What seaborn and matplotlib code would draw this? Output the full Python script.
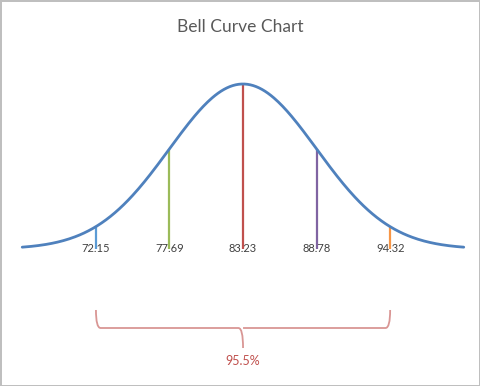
import numpy as np
import pandas as pd
import seaborn as sns
import matplotlib.pyplot as plt
from matplotlib.path import Path
from matplotlib.patches import PathPatch

# values shown on the chart: mean and +/- 1, 2 standard deviations
marks = [72.15, 77.69, 83.23, 88.78, 94.32]
mark_colors = ['#5b9bd5', '#9bbb59', '#c0504d', '#8064a2', '#f79646']
mean = 83.23
sd = 5.545
coverage = '95.5%'

def pdf(v):
    return np.exp(-0.5 * ((v - mean) / sd) ** 2) / (sd * np.sqrt(2 * np.pi))

# bell curve over mean +/- 3 sd
df = pd.DataFrame({'x': np.linspace(mean - 3 * sd, mean + 3 * sd, 301)})
df['pdf'] = pdf(df['x'])

sns.set_style('white')
plt.rcParams['font.family'] = ['Lato', 'DejaVu Sans']

fig = plt.figure(figsize=(4.8, 3.86), dpi=100)
fig.patch.set_edgecolor('#bfbfbf')
fig.patch.set_linewidth(2)
ax = fig.add_axes([0, 0, 1, 1])
ax.set_axis_off()

peak = pdf(mean)
unit = peak / 165.0  # data units per pixel vertically
ax.set_xlim(mean - 18.31, mean + 17.86)
ax.set_ylim(-(386 - 249) * unit, peak + 84 * unit)

for m, c in zip(marks, mark_colors):
    ax.vlines(m, 0, pdf(m), color=c, linewidth=1.6, zorder=2)
sns.lineplot(data=df, x='x', y='pdf', ax=ax, color='#4f81bd', linewidth=2, zorder=3)

for m in marks:
    ax.text(m, 0, '%.2f' % m, ha='center', va='center', fontsize=8, color='#404040', zorder=4)

# brace under the +/- 2 sd span
lo, hi = marks[0], marks[-1]
ytop, ymid, ydip = -61 * unit, -79 * unit, -99 * unit
dx = 0.35
cx = (lo + hi) / 2
verts = [(lo, ytop), (lo, ymid), (lo + dx, ymid), (lo + dx, ymid),
         (cx - dx, ymid), (cx, ymid), (cx, ydip),
         (cx, ymid), (cx + dx, ymid), (cx + dx, ymid),
         (hi - dx, ymid), (hi, ymid), (hi, ytop)]
codes = [Path.MOVETO, Path.CURVE3, Path.CURVE3, Path.LINETO,
         Path.LINETO, Path.CURVE3, Path.CURVE3,
         Path.MOVETO, Path.CURVE3, Path.CURVE3,
         Path.LINETO, Path.CURVE3, Path.CURVE3]
ax.add_patch(PathPatch(Path(verts, codes), fill=False, edgecolor='#d99694', linewidth=1.3))
ax.text(cx, -112 * unit, coverage, ha='center', va='center', fontsize=9, color='#c0504d')

xmid = sum(ax.get_xlim()) / 2
ax.text(xmid, peak + 57 * unit, 'Bell Curve Chart', ha='center', va='center',
        fontsize=12.5, color='#595959')

fig.savefig('out.png', dpi=100, edgecolor=fig.get_edgecolor())
